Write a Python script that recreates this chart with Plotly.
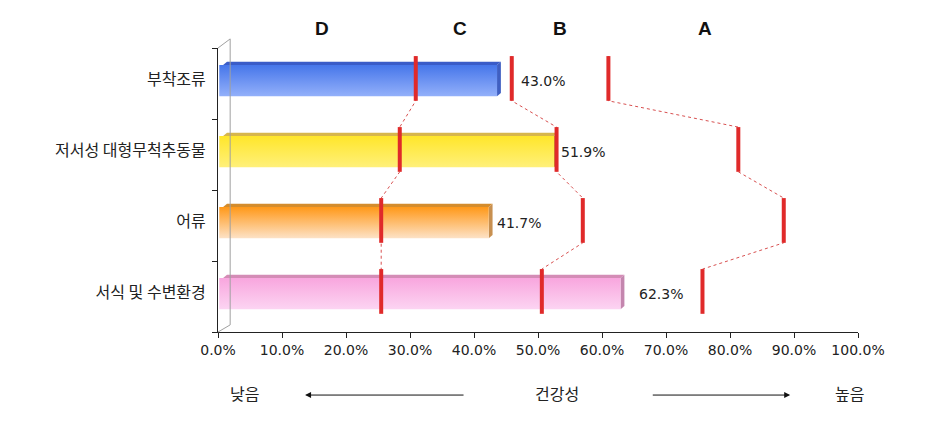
import plotly.graph_objects as go

# ---- data ----
categories = ["부착조류", "저서성 대형무척추동물", "어류", "서식 및 수변환경"]
health_pct = [43.0, 51.9, 41.7, 62.3]
bound_dc = [30.9, 28.4, 25.5, 25.5]   # D | C boundary
bound_cb = [45.9, 52.9, 57.0, 50.6]   # C | B boundary
bound_ba = [61.0, 81.3, 88.4, 75.7]   # B | A boundary
grade_names = ["D", "C", "B", "A"]
grade_pos = [16.3, 37.8, 53.4, 76.1]
x_ticks = [0, 10, 20, 30, 40, 50, 60, 70, 80, 90, 100]

# bar styling (front top, front bottom, top face, side face)
bar_colors = [
    ("#4676ea", "#93b0fa", "#3a5cc8", "#3f5fc2"),
    ("#ffe62a", "#fff07a", "#d7b64c", "#c8a838"),
    ("#ff9818", "#fde2c6", "#d48c2c", "#c89050"),
    ("#f8a6de", "#fcd4f2", "#d48cb6", "#c486ae"),
]
label_shift = [18, 1, 2, 13]

KFONT = "Noto Sans CJK KR, sans-serif"
NFONT = "DejaVu Sans, sans-serif"
RED = "#e02a2a"
half = 0.22      # half height of bar front face (category units)
top_h = 0.045    # depth of the top face
dx = 0.6         # 3d offset in %

fig = go.Figure()

for i, v in enumerate(health_pct):
    c_top, c_bot, c_face, c_side = bar_colors[i]
    y0 = i - half + 0.015
    y1 = i + half + 0.015
    # top face
    fig.add_trace(go.Scatter(
        x=[0.2 + dx, v + dx, v + 2 * dx, 0.2 + 2 * dx, 0.2 + dx],
        y=[y0, y0, y0 - top_h, y0 - top_h, y0],
        fill="toself", fillcolor=c_face, mode="lines",
        line=dict(width=0), hoverinfo="skip", showlegend=False))
    # side face
    fig.add_trace(go.Scatter(
        x=[v + dx, v + 2 * dx, v + 2 * dx, v + dx, v + dx],
        y=[y0, y0 - top_h, y1 - top_h, y1, y0],
        fill="toself", fillcolor=c_side, mode="lines",
        line=dict(width=0), hoverinfo="skip", showlegend=False))
    # front face with vertical gradient
    fig.add_trace(go.Scatter(
        x=[0.2, v + dx, v + dx, 0.2, 0.2],
        y=[y0, y0, y1, y1, y0],
        fill="toself", mode="lines",
        fillgradient=dict(type="vertical", colorscale=[[0, c_bot], [1, c_top]]),
        line=dict(width=0), hoverinfo="text",
        text=f"{categories[i]}: {v:.1f}%", showlegend=False))
    fig.add_annotation(x=v + 2 * dx, y=i + 0.02, text=f"{v:.1f}%", showarrow=False,
                       xanchor="left", xshift=label_shift[i],
                       font=dict(family=NFONT, size=14, color="#222"))

# grade boundaries: dotted connectors + thick red markers
for b in [bound_dc, bound_cb, bound_ba]:
    xs, ys, xm, ym = [], [], [], []
    for i, v in enumerate(b):
        xs += [v, v]
        ys += [i - 0.33, i + 0.3]
        xm += [v, v, None]
        ym += [i - 0.33, i + 0.3, None]
    fig.add_trace(go.Scatter(x=xs, y=ys, mode="lines",
                             line=dict(color="#d85050", width=1, dash="dot"),
                             hoverinfo="skip", showlegend=False))
    fig.add_trace(go.Scatter(x=xm, y=ym, mode="lines",
                             line=dict(color=RED, width=4),
                             hoverinfo="skip", showlegend=False))

# grade letters
for g, p in zip(grade_names, grade_pos):
    fig.add_annotation(x=p, y=1.07, yref="paper", yanchor="middle", text=f"<b>{g}</b>",
                       showarrow=False,
                       font=dict(family="Liberation Sans, Arial", size=19, color="#111"))

# 3d wall outline
wall = dict(color="#a0a0a0", width=1)
fig.add_shape(type="line", xref="paper", yref="paper", x0=0, y0=1.0, x1=0.019, y1=1.032, line=wall)
fig.add_shape(type="line", xref="paper", yref="paper", x0=0.019, y0=1.032, x1=0.019, y1=0.025, line=wall)
fig.add_shape(type="line", xref="paper", yref="paper", x0=0, y0=0, x1=0.019, y1=0.025, line=wall)

# bottom text and arrows
bottom_font = dict(family=KFONT, size=16, color="#222")
for txt, xp in [("낮음", 4.2), ("건강성", 53.0), ("높음", 98.6)]:
    fig.add_annotation(x=xp, y=-0.215, yref="paper", yanchor="middle", text=txt,
                       showarrow=False, font=bottom_font)
fig.add_annotation(x=13.6, y=-0.222, yref="paper", ax=38.6, ay=0, axref="x", ayref="pixel",
                   text="", showarrow=True, arrowhead=2, arrowsize=1.2, arrowwidth=1, arrowcolor="#111")
fig.add_annotation(x=89.4, y=-0.222, yref="paper", ax=67.7, ay=0, axref="x", ayref="pixel",
                   text="", showarrow=True, arrowhead=2, arrowsize=1.2, arrowwidth=1, arrowcolor="#111")

fig.update_xaxes(range=[0, 100], tickvals=x_ticks,
                 ticktext=[f"{t:.1f}%" for t in x_ticks],
                 ticks="outside", ticklen=5, tickcolor="#222",
                 showline=True, linecolor="#222", linewidth=1,
                 showgrid=False, zeroline=False, fixedrange=True,
                 tickfont=dict(family=NFONT, size=14, color="#222"))
fig.update_yaxes(range=[3.556, -0.444], tickvals=[0, 1, 2, 3], ticktext=categories,
                 ticks="", showline=True, linecolor="#222", linewidth=1,
                 showgrid=False, zeroline=False, ticklabelstandoff=8,
                 minor=dict(tickvals=[-0.444, 0.556, 1.556, 2.556, 3.556],
                            ticks="outside", ticklen=5, tickcolor="#222", showgrid=False),
                 tickfont=dict(family=KFONT, size=16, color="#222"))

# page body has an 8px margin, so the figure is a bit smaller than the window
fig.update_layout(width=925, height=427,
                  margin=dict(l=210, r=75, t=40, b=103),
                  plot_bgcolor="white", paper_bgcolor="white",
                  showlegend=False)

fig.write_html("out.html")
